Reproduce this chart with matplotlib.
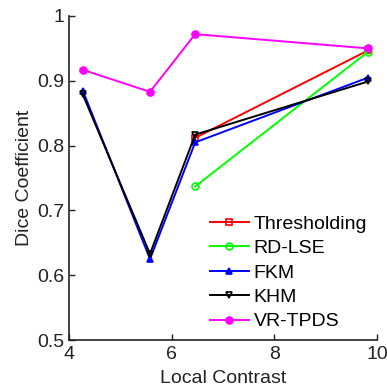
import matplotlib
matplotlib.use("Agg")
import matplotlib.pyplot as plt

plt.rcParams['font.family'] = ['Liberation Sans', 'DejaVu Sans']

# values
contrast = [4.27, 5.58, 6.46, 9.83]
thresholding = [None, None, 0.812, 0.947]
rd_lse = [None, None, 0.737, 0.945]
fkm = [0.885, 0.625, 0.805, 0.905]
khm = [0.879, 0.633, 0.817, 0.899]
vr_tpds = [0.917, 0.883, 0.972, 0.950]

series = [
    ("Thresholding", thresholding, "#ff0000", "s", "none"),
    ("RD-LSE", rd_lse, "#00ff00", "o", "none"),
    ("FKM", fkm, "#0000ff", "^", None),
    ("KHM", khm, "#000000", "v", "none"),
    ("VR-TPDS", vr_tpds, "#ff00ff", "o", None),
]

fig = plt.figure(figsize=(3.87, 3.90), dpi=100)
ax = fig.add_axes([0.178, 0.128, 0.796, 0.831])

for name, vals, col, mk, mfc in series:
    xs = [x for x, v in zip(contrast, vals) if v is not None]
    ys = [v for v in vals if v is not None]
    kw = dict(color=col, marker=mk, markersize=5, linewidth=1.4, label=name,
              markeredgewidth=1.2)
    if mfc is not None:
        kw["markerfacecolor"] = mfc
    ax.plot(xs, ys, **kw)

ax.set_xlim(4, 10)
ax.set_ylim(0.5, 1)
ax.set_xticks([4, 6, 8, 10])
ax.set_yticks([0.5, 0.6, 0.7, 0.8, 0.9, 1.0])
ax.set_yticklabels(["0.5", "0.6", "0.7", "0.8", "0.9", "1"])
ax.tick_params(direction="in", labelsize=14, length=4, width=1, colors="#222222")
ax.tick_params(axis="y", pad=3)
ax.tick_params(axis="x", pad=4)
ax.spines["top"].set_visible(False)
ax.spines["right"].set_visible(False)
for s in ("left", "bottom"):
    ax.spines[s].set_linewidth(1.2)
    ax.spines[s].set_color("#222222")
ax.set_xlabel("Local Contrast", fontsize=14, labelpad=5, color="#222222")
ax.set_ylabel("Dice Coefficient", fontsize=14, labelpad=3, color="#222222")

ax.legend(loc="lower right", bbox_to_anchor=(1.0, 0.0), frameon=False, fontsize=14,
          handlelength=2.0, handletextpad=0.25, labelspacing=0.35, borderaxespad=0.1)

fig.savefig("out.png", dpi=100)
